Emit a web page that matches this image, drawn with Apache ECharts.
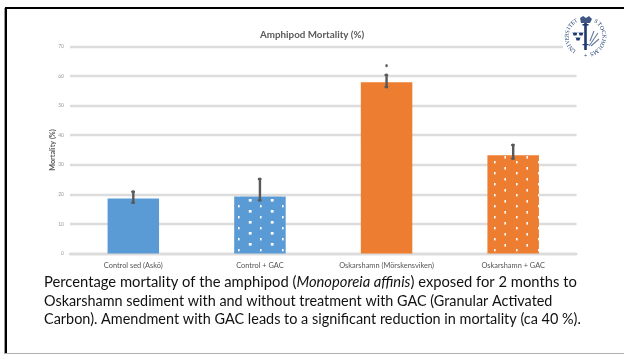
<!DOCTYPE html>
<html><head><meta charset="utf-8">
<style>html,body{margin:0;padding:0;background:#fff;overflow:hidden}
#c{width:624px;height:354px;filter:blur(0.4px)}
.f{position:absolute}</style>
<script src="https://cdn.jsdelivr.net/npm/echarts@6/dist/echarts.min.js"></script>
</head><body><div id="c"></div>
<div class="f" style="left:5px;top:7px;width:619px;height:2.4px;background:#000"></div>
<div class="f" style="left:5px;top:7px;width:2px;height:347px;background:#000"></div>
<div class="f" style="left:4px;top:8px;width:1px;height:346px;background:#999"></div>
<div class="f" style="left:4px;top:353px;width:620px;height:1px;background:#b0b0b0"></div>
<script>
const categories = ['Control sed (Askö)', 'Control + GAC', 'Oskarshamn (Mörskensviken)', 'Oskarshamn + GAC'];
const mortality = [18.6, 19.3, 57.9, 33.2];
const errLow = [17.2, 18.0, 56.3, 32.1];
const errHigh = [20.9, 25.2, 60.4, 36.7];
const significance = ['', '', '*', ''];
const yTicks = [0, 70, 10];
const blue = '#5b9bd5', orange = '#ed7d31';

function dots(bg, sx, bx, sy, by) {
  const t = document.createElement('canvas'); t.width = 22; t.height = 11;
  const g = t.getContext('2d');
  g.fillStyle = bg; g.fillRect(0, 0, 22, 11);
  g.fillStyle = '#fff';
  g.fillRect(sx, sy, 1.6, 2.4);
  g.fillRect(bx, by, 2.8, 2.6);
  return { image: t, repeat: 'repeat' };
}
const barColors = [blue, dots(blue, 18, 6.8, 7, 1), orange, dots(orange, 10, 20.4, 7, 2)];

const graphic = [];
const capRich = s => ({ i: { font: 'italic ' + s + 'px Lato', fill: '#111' } });
[[ 'Percentage mortality of the amphipod ({i|Monoporeia affinis}) exposed for 2 months to', 282, 14.75],
 [ 'Oskarshamn sediment with and without treatment with GAC (Granular Activated', 301, 14.4],
 [ 'Carbon). Amendment with GAC leads to a significant reduction in mortality (ca 40 %).', 319, 14.45]]
.forEach(([text, y, s]) => graphic.push({ type: 'text', x: 44, y, silent: true, z: 10,
  style: { text, font: s + 'px Lato', fill: '#111', verticalAlign: 'middle', rich: capRich(s) } }));

// logo
const navy = '#1e3a70', cx = 585.5, cy = 36.5;
graphic.push({ type: 'rect', shape: { x: 563, y: 12, width: 46, height: 48 }, style: { fill: '#fff' }, silent: true, z: 5 });
function arc(str, startDeg, stepDeg) {
  [...str].forEach((ch, i) => {
    const a = (startDeg + i * stepDeg) * Math.PI / 180;
    const r = 18.4;
    graphic.push({ type: 'text', silent: true, z: 6,
      x: cx + r * Math.sin(a), y: cy - r * Math.cos(a), rotation: -a,
      style: { text: ch, font: '5.8px "Liberation Serif", serif', fill: navy, align: 'center', verticalAlign: 'middle' } });
  });
}
arc('STOCKHOLMS', 35, 13.9);
arc('UNIVERSITET', -140, 10.8);
arc('+', 180, 0);
graphic.push({ type: 'polygon', shape: { points: [[580, 18], [583, 16], [586, 18], [589, 16], [592, 19], [590, 23], [581, 23]] }, style: { fill: navy, opacity: .85 }, silent: true, z: 6 });
[[584.2, 23, 2.6, 27], [582.5, 24, 6, 1.6], [582.5, 44, 6, 1.2]].forEach(([x, y, w, h]) =>
  graphic.push({ type: 'rect', shape: { x, y, width: w, height: h }, style: { fill: navy }, silent: true, z: 6 }));
[[572.5, 32], [578.5, 32], [575.5, 37]].forEach(([x, y]) =>
  graphic.push({ type: 'polygon', shape: { points: [[x, y], [x + 1.5, y + 1], [x + 2.5, y], [x + 3.5, y + 1], [x + 5, y], [x + 4, y + 3.4], [x + 1, y + 3.4]] }, style: { fill: navy }, silent: true, z: 6 }));
[[589, 46, 598, 33], [590, 41, 594, 31], [591, 46, 599, 39]].forEach(([x1, y1, x2, y2]) =>
  graphic.push({ type: 'line', shape: { x1, y1, x2, y2 }, style: { stroke: navy, lineWidth: 1.2, opacity: .65 }, silent: true, z: 6 }));

const chart = echarts.init(document.getElementById('c'), null, { renderer: 'canvas' });
chart.setOption({
  animation: false,
  backgroundColor: '#fff',
  title: { text: 'Amphipod Mortality (%)', left: 255, top: 25,
    textStyle: { fontFamily: 'Lato', fontSize: 9.8, fontWeight: 'bold', color: '#595959', lineHeight: 10 } },
  grid: { left: 70, right: 47.5, top: 46.5, bottom: 100.5 },
  xAxis: { type: 'category', data: categories,
    axisLine: { lineStyle: { color: '#dcdcdc', width: 2.4 } }, axisTick: { show: false },
    axisLabel: { interval: 0, fontFamily: 'Lato', fontSize: 7.4, color: '#555', margin: 8.5 } },
  yAxis: { type: 'value', min: yTicks[0], max: yTicks[1], interval: yTicks[2],
    name: 'Mortality (%)', nameLocation: 'middle', nameGap: 14, nameMoveOverlap: false,
    nameTextStyle: { fontFamily: 'Lato', fontSize: 7.2, fontWeight: 'bold', color: '#595959' },
    axisLine: { show: false }, axisTick: { show: false },
    axisLabel: { fontFamily: 'Lato', fontSize: 5, color: '#999', margin: 6 },
    splitLine: { lineStyle: { color: '#dcdcdc', width: 2.4 } } },
  series: [
    { type: 'bar', barWidth: 51.5, silent: true, z: 3,
      data: mortality.map((v, i) => ({ value: v, itemStyle: { color: barColors[i] } })) },
    { type: 'custom', silent: true, z: 4,
      data: categories.map((c, i) => [i, errLow[i], errHigh[i], significance[i]]),
      encode: { x: 0, y: [1, 2] },
      renderItem(params, api) {
        const lo = api.coord([api.value(0), api.value(1)]);
        const hi = api.coord([api.value(0), api.value(2)]);
        const st = { stroke: '#595959', lineWidth: 2.4, fill: null, lineCap: 'round' };
        const x = lo[0];
        const children = [
          { type: 'line', shape: { x1: x, y1: lo[1], x2: x, y2: hi[1] }, style: st },
          { type: 'line', shape: { x1: x - 1, y1: lo[1], x2: x + .5, y2: lo[1] }, style: st },
          { type: 'line', shape: { x1: x - 1, y1: hi[1], x2: x + .5, y2: hi[1] }, style: st }
        ];
        const mark = significance[params.dataIndex];
        if (mark) children.push({ type: 'text', x, y: hi[1] - 7,
          style: { text: mark, font: 'bold 10px Lato', fill: '#333', align: 'center', verticalAlign: 'middle' } });
        return { type: 'group', children };
      } }
  ],
  graphic
});
</script></body></html>
